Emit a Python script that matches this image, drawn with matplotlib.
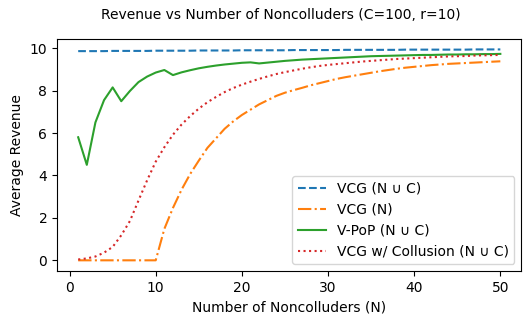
import numpy as np
import matplotlib
matplotlib.use("Agg")
import matplotlib.pyplot as plt

# number of noncolluders
n_values = list(range(1, 51))

# VCG over all bidders (N u C)
vcg_all = [9.86, 9.86, 9.86, 9.86, 9.87, 9.87, 9.87, 9.87, 9.87, 9.88,
           9.88, 9.88, 9.88, 9.88, 9.89, 9.89, 9.89, 9.89, 9.89, 9.90,
           9.90, 9.90, 9.90, 9.90, 9.90, 9.91, 9.91, 9.91, 9.91, 9.91,
           9.91, 9.92, 9.92, 9.92, 9.92, 9.92, 9.92, 9.92, 9.93, 9.93,
           9.93, 9.93, 9.93, 9.93, 9.93, 9.93, 9.94, 9.94, 9.94, 9.94]

# VCG over noncolluders only
vcg_n = [0.0, 0.0, 0.0, 0.0, 0.0, 0.0, 0.0, 0.0, 0.0, 0.0,
         1.48, 2.47, 3.33, 4.07, 4.70, 5.30, 5.75, 6.20, 6.55, 6.85,
         7.10, 7.35, 7.55, 7.75, 7.90, 8.02, 8.13, 8.25, 8.35, 8.45,
         8.55, 8.63, 8.70, 8.77, 8.84, 8.91, 8.97, 9.03, 9.08, 9.12,
         9.16, 9.20, 9.23, 9.26, 9.28, 9.30, 9.32, 9.34, 9.36, 9.38]

# V-PoP over all bidders
vpop = [5.80, 4.50, 6.50, 7.55, 8.15, 7.50, 7.98, 8.40, 8.66, 8.85,
        8.97, 8.73, 8.86, 8.96, 9.05, 9.12, 9.18, 9.23, 9.27, 9.31,
        9.33, 9.28, 9.32, 9.36, 9.40, 9.43, 9.46, 9.48, 9.50, 9.52,
        9.54, 9.56, 9.58, 9.60, 9.62, 9.63, 9.64, 9.65, 9.66, 9.67,
        9.68, 9.68, 9.69, 9.70, 9.70, 9.71, 9.71, 9.72, 9.72, 9.73]

# VCG with collusion
vcg_coll = [0.04, 0.09, 0.18, 0.36, 0.63, 1.18, 1.85, 2.82, 3.77, 4.65,
            5.33, 5.92, 6.40, 6.80, 7.15, 7.45, 7.70, 7.93, 8.12, 8.28,
            8.42, 8.55, 8.67, 8.78, 8.87, 8.95, 9.03, 9.10, 9.16, 9.21,
            9.25, 9.29, 9.33, 9.37, 9.40, 9.43, 9.46, 9.49, 9.51, 9.53,
            9.55, 9.57, 9.59, 9.61, 9.62, 9.63, 9.65, 9.66, 9.67, 9.68]

fig = plt.figure(figsize=(5.31, 3.24), dpi=100)
ax = fig.add_axes([0.1075, 0.164, 0.8745, 0.716])

ax.plot(n_values, vcg_all, linestyle='--', label='VCG (N \u222a C)')
ax.plot(n_values, vcg_n, linestyle='-.', label='VCG (N)')
ax.plot(n_values, vpop, linestyle='-', label='V-PoP (N \u222a C)')
ax.plot(n_values, vcg_coll, linestyle=':', label='VCG w/ Collusion (N \u222a C)')

ax.set_xlabel('Number of Noncolluders (N)')
ax.set_ylabel('Average Revenue')
ax.legend(loc='lower right')
fig.suptitle('Revenue vs Number of Noncolluders (C=100, r=10)', fontsize=10, x=0.528, y=0.975)

fig.savefig('out.png', dpi=100)
